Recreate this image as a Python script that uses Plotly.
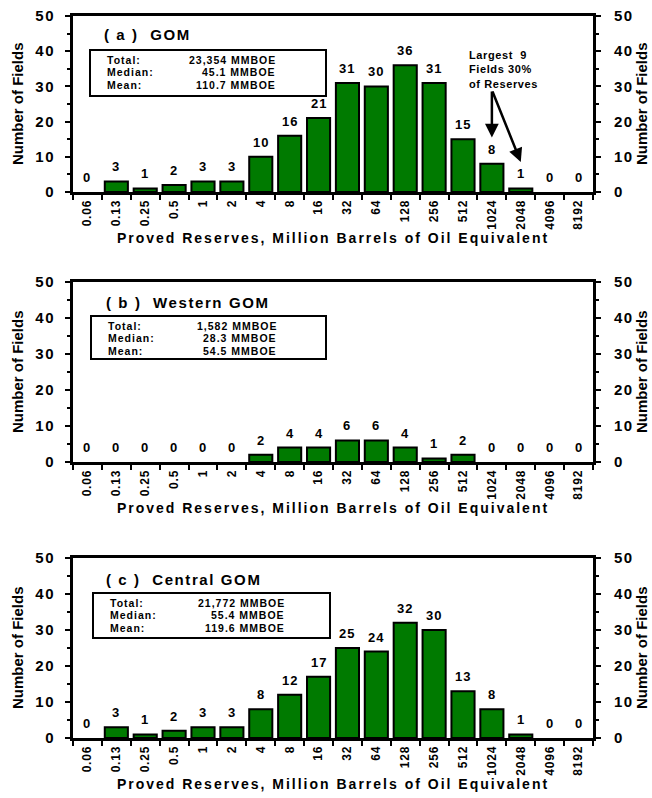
import plotly.graph_objects as go

# ---------------- data ----------------
categories = ["0.06", "0.13", "0.25", "0.5", "1", "2", "4", "8", "16", "32",
              "64", "128", "256", "512", "1024", "2048", "4096", "8192"]
gom_counts = [0, 3, 1, 2, 3, 3, 10, 16, 21, 31, 30, 36, 31, 15, 8, 1, 0, 0]
western_counts = [0, 0, 0, 0, 0, 0, 2, 4, 4, 6, 6, 4, 1, 2, 0, 0, 0, 0]
central_counts = [0, 3, 1, 2, 3, 3, 8, 12, 17, 25, 24, 32, 30, 13, 8, 1, 0, 0]

stat_labels = ["Total:", "Median:", "Mean:"]
gom_stats = ["23,354 MMBOE", "45.1 MMBOE", "110.7 MMBOE"]
western_stats = ["1,582 MMBOE", "28.3 MMBOE", "54.5 MMBOE"]
central_stats = ["21,772 MMBOE", "55.4 MMBOE", "119.6 MMBOE"]

panel_titles = ["( a )  GOM", "( b )  Western GOM", "( c )  Central GOM"]
y_tick_vals = [0, 10, 20, 30, 40, 50]
x_title = "Proved Reserves, Million Barrels of Oil Equivalent"
y_title = "Number of Fields"
callout_text = "Largest  9<br>Fields 30%<br>of Reserves"
callout_targets = [("1024", 15.5), ("2048", 8.5)]
callout_origin = ("1024", 29)

# ---------------- layout geometry (pixels) ----------------
W, H = 652, 798
L, R = 73, 593
T_PLOT, B_PLOT = 16, 738
panels_px = [(16, 192), (282, 462), (558, 738)]
box_px = [(90, 326, 50, 96), (91, 326, 316, 359), (93, 330, 593, 638)]
value_right_px = [278, 279, 287]
title_px = [(102, 35), (104, 302), (104, 579)]
ytitle_x_px = (17, 641)

FONT = "Liberation Sans"
GREEN = "#007a00"


def ls(text, px):
    return f'<span style="letter-spacing:{px}px">{text}</span>'


def xd(px):
    return (px - L) / (R - L)


def yd(py, k):
    t, b = panels_px[k]
    return (b - py) / (b - t)


def cat_pos(c):
    return categories.index(c)


fig = go.Figure()
series = [gom_counts, western_counts, central_counts]
stats = [gom_stats, western_stats, central_stats]
annotations = []
shapes = []
layout_axes = {}
ncat = len(categories)

for k, vals in enumerate(series):
    n = "" if k == 0 else str(k + 1)
    xa, ya = "x" + n, "y" + n
    yr = "y" + str(k + 4)
    fig.add_trace(go.Bar(
        x=categories, y=vals, xaxis=xa, yaxis=ya,
        marker=dict(color=GREEN,
                    line=dict(color="black",
                              width=[2 if v > 0 else 0 for v in vals])),
        showlegend=False, hoverinfo="skip"))
    fig.add_trace(go.Scatter(
        x=categories, y=vals, xaxis=xa, yaxis=yr, mode="markers",
        marker=dict(opacity=0), showlegend=False, hoverinfo="skip"))

    t, b = panels_px[k]
    dom = [(B_PLOT - b) / (B_PLOT - T_PLOT),
           (B_PLOT - t) / (B_PLOT - T_PLOT)]
    layout_axes["xaxis" + n] = dict(
        type="category", anchor=ya, domain=[0, 1],
        categoryorder="array", categoryarray=categories,
        range=[-0.5, ncat - 0.5],
        showline=True, mirror=True, linecolor="black", linewidth=3,
        ticks="outside", tickson="boundaries", ticklen=5, tickwidth=2,
        tickcolor="black", tickangle=-90,
        ticktext=[ls(c, 0.8) for c in categories], tickvals=categories,
        tickfont=dict(family=FONT, size=12, color="black", weight="bold"),
        title=dict(text=ls(x_title, 2.0), standoff=4,
                   font=dict(family=FONT, size=14, color="black",
                             weight="bold")),
        showgrid=False, zeroline=False, fixedrange=True, automargin=False)
    ycommon = dict(
        range=[0, 50], tickvals=y_tick_vals,
        ticktext=[ls(str(v), 1.5) for v in y_tick_vals],
        showline=True, linecolor="black", linewidth=3,
        ticks="outside", ticklen=5, tickwidth=2, tickcolor="black",
        minor=dict(dtick=5, ticks="outside", ticklen=3, tickwidth=2,
                   tickcolor="black"),
        tickfont=dict(family=FONT, size=15, color="black", weight="bold"),
        showgrid=False, zeroline=False, fixedrange=True, automargin=False)
    layout_axes["yaxis" + n] = dict(anchor=xa, domain=dom, side="left",
                                    ticklabelstandoff=7, **ycommon)
    layout_axes["yaxis" + str(k + 4)] = dict(anchor=xa, overlaying=ya,
                                             side="right",
                                             ticklabelstandoff=10, **ycommon)

    # y-axis titles, both sides
    for xp in ytitle_x_px:
        annotations.append(dict(
            x=xd(xp), y=0.5, xref="paper", yref=ya + " domain",
            text=y_title, textangle=-90, showarrow=False,
            xanchor="center", yanchor="middle",
            font=dict(family=FONT, size=15, color="black", weight="bold")))

    # value labels above bars
    for c, v in zip(categories, vals):
        annotations.append(dict(
            x=cat_pos(c), y=v, xref=xa, yref=ya, text=ls(str(v), 1),
            showarrow=False, yanchor="bottom", yshift=5,
            font=dict(family=FONT, size=13, color="black", weight="bold")))

    # panel title
    tx, ty = title_px[k]
    annotations.append(dict(
        x=xd(tx), y=yd(ty, k), xref=xa + " domain", yref=ya + " domain",
        text=ls(panel_titles[k], 1.6), showarrow=False, xanchor="left",
        yanchor="middle",
        font=dict(family=FONT, size=15, color="black", weight="bold")))

    # stats box
    x0, x1, y0, y1 = box_px[k]
    shapes.append(dict(type="rect", xref=xa + " domain", yref=ya + " domain",
                       x0=xd(x0), x1=xd(x1), y0=yd(y0, k), y1=yd(y1, k),
                       line=dict(color="black", width=2),
                       fillcolor="white", layer="above"))
    for i, (lab, val) in enumerate(zip(stat_labels, stats[k])):
        ly = y0 + 9.5 + 12.5 * i
        annotations.append(dict(
            x=xd(x0 + 15), y=yd(ly, k), xref=xa + " domain",
            yref=ya + " domain", text=ls(lab, 1), showarrow=False,
            xanchor="left", yanchor="middle",
            font=dict(family=FONT, size=10.5, color="black", weight="bold")))
        annotations.append(dict(
            x=xd(value_right_px[k]), y=yd(ly, k), xref=xa + " domain",
            yref=ya + " domain", text=ls(val, 1), showarrow=False,
            xanchor="right", yanchor="middle",
            font=dict(family=FONT, size=10.5, color="black", weight="bold")))

# callout on panel (a)
annotations.append(dict(
    x=xd(467), y=yd(47, 0), xref="x domain", yref="y domain",
    text=ls(callout_text, 0.6), showarrow=False, xanchor="left",
    yanchor="top", align="left",
    font=dict(family=FONT, size=11, color="black", weight="bold")))
for cx, cy in callout_targets:
    annotations.append(dict(
        x=cat_pos(cx), y=cy, xref="x", yref="y",
        ax=cat_pos(callout_origin[0]), ay=callout_origin[1],
        axref="x", ayref="y", text="", showarrow=True,
        arrowhead=2, arrowsize=1.1, arrowwidth=2.5, arrowcolor="black"))

fig.update_layout(
    width=W, height=H,
    margin=dict(l=L, r=W - R, t=T_PLOT, b=H - B_PLOT, autoexpand=False),
    paper_bgcolor="white", plot_bgcolor="white",
    bargap=0.2, annotations=annotations, shapes=shapes,
    **layout_axes)

fig.write_html(
    "out.html",
    config={"displayModeBar": False, "staticPlot": True},
    post_script="document.body.style.margin='0';"
                "document.body.style.overflow='hidden';")
